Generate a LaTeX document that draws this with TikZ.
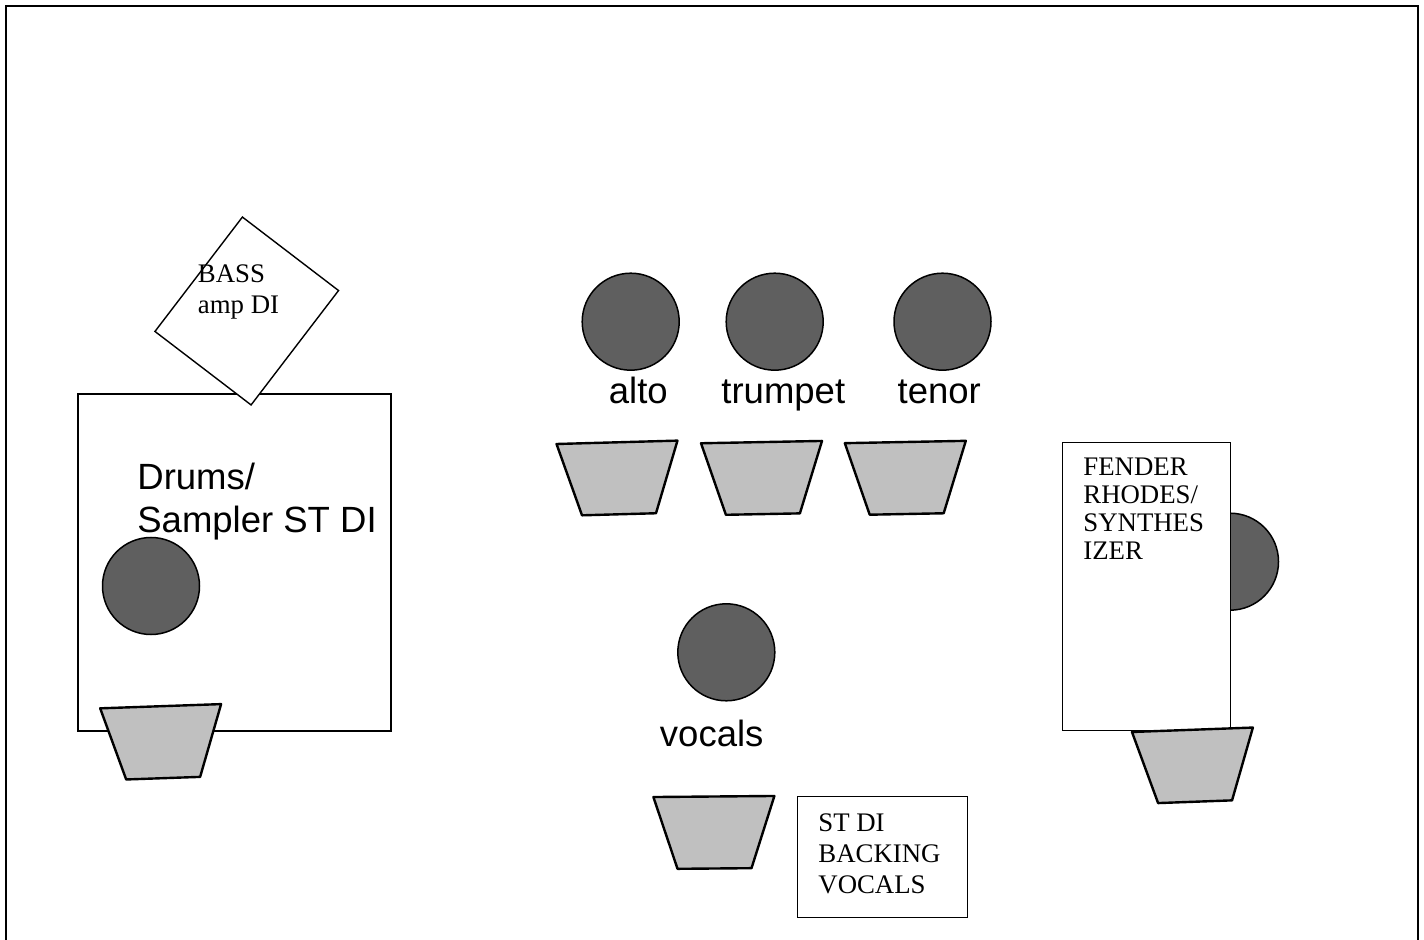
\documentclass[tikz,border=0pt]{standalone}
\usepackage{fontspec}
\setmainfont{Liberation Serif}
\setsansfont{Liberation Sans}
\usepackage{tikz}

\definecolor{micgray}{RGB}{95,95,95}
\definecolor{wedgegray}{RGB}{192,192,192}

\tikzset{
  player/.style={circle,draw,fill=micgray,line width=0.75pt,minimum size=48.5pt,inner sep=0pt},
  wedgefill/.style={draw,fill=wedgegray,line width=1.2pt,line join=round},
  boxline/.style={rectangle,draw,fill=white,line width=0.7pt,inner sep=0pt},
  biglabel/.style={font=\sffamily\fontsize{18.25}{21.5}\selectfont,inner sep=0pt},
  smalllabel/.style={font=\fontsize{13.4}{15.4}\selectfont,align=left,inner sep=0pt},
  monitor/.pic={\path[wedgefill] (-60.5,-36) -- (60.5,-36) -- (37,36) -- (-37,36) -- cycle;}
}

\begin{document}
\begin{tikzpicture}[x=0.5pt,y=-0.5pt]
  \useasboundingbox (0,0) rectangle (1424,940);
  \draw[line width=0.9pt] (6,940) -- (6,6) -- (1418,6) -- (1418,940);

  % drums corner
  \node[boxline,minimum width=156.5pt,minimum height=168.5pt] (drumkit) at (234.5,562.5) {};
  \node[boxline,minimum width=60.5pt,minimum height=72pt,rotate=-37.4] (bassamp) at (246.75,311) {};
  \node[smalllabel,anchor=base west] (basslabel) at (197.5,313.7) {BASS\\amp DI};
  \node[biglabel,anchor=base west,align=left] (drumlabel) at (137,533) {Drums/\\Sampler ST DI};
  \node[player] (drums) at (151,586) {};
  \pic[rotate=2] (drumwedge) at (161.9,742.2) {monitor};

  % horns
  \node[player] (alto) at (630.7,321.7) {};
  \node[player] (trumpet) at (774.7,321.7) {};
  \node[player] (tenor) at (942.5,321.7) {};
  \node[biglabel,anchor=base] (altolabel) at (638.3,403.3) {alto};
  \node[biglabel,anchor=base] (trumpetlabel) at (783.3,403.3) {trumpet};
  \node[biglabel,anchor=base] (tenorlabel) at (939.3,403.3) {tenor};
  \pic[rotate=1.6] (altowedge) at (618,478.3) {monitor};
  \pic[rotate=1.1] (trumpetwedge) at (762.2,478.1) {monitor};
  \pic[rotate=1.1] (tenorwedge) at (906,478) {monitor};

  % vocals
  \node[player] (vocals) at (726.3,652.3) {};
  \node[biglabel,anchor=base] (vocallabel) at (711.7,746.7) {vocals};
  \pic[rotate=0.5] (vocalwedge) at (714.2,832.5) {monitor};
  \node[boxline,minimum width=84.8pt,minimum height=60.3pt] (backing) at (882.5,857) {};
  \node[smalllabel,anchor=base west] (backinglabel) at (818,893.3) {ST DI\\BACKING\\VOCALS};

  % keys
  \node[player] (keys) at (1230,561.7) {};
  \node[boxline,minimum width=84pt,minimum height=144pt] (rhodes) at (1146.7,586.7) {};
  \node[smalllabel,font=\fontsize{13.4}{13.9}\selectfont,anchor=base west] (rhodeslabel) at (1083,559.3) {FENDER\\RHODES/\\SYNTHES\\IZER};
  \pic[rotate=2.1] (keyswedge) at (1193.75,765.75) {monitor};
\end{tikzpicture}
\end{document}
